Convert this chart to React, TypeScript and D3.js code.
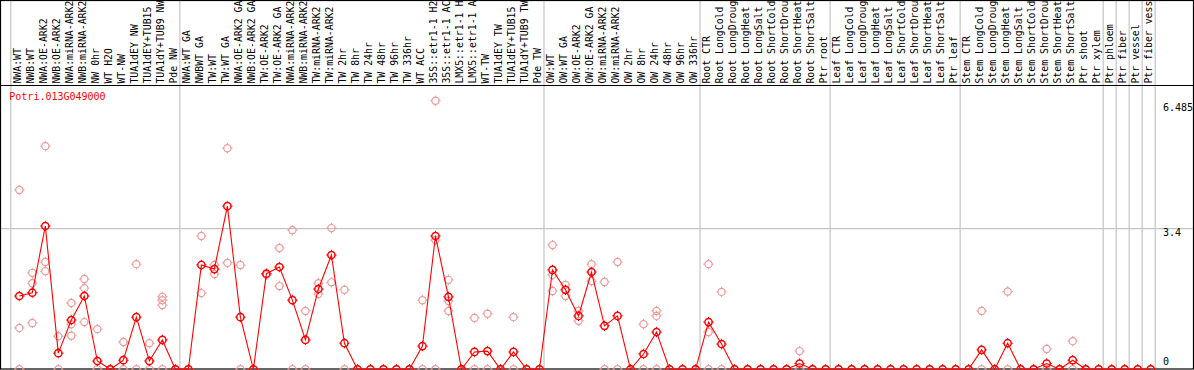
import React from 'react';
import * as d3 from 'd3';

const categories = [
  'NWA:WT', 'NWB:WT', 'NWA:OE-ARK2', 'NWB:OE-ARK2', 'NWA:miRNA-ARK2', 'NWB:miRNA-ARK2', 'NW 0hr', 'WT H2O', 'WT-NW',
  'TUA1dEY NW', 'TUA1dEY+TUB15', 'TUA1dY+TUB9 NW', 'Pde NW',
  'NWA:WT GA', 'NWBWT GA', 'TW:WT', 'TW:WT GA', 'NWA:OE-ARK2 GA', 'NWB:OE-ARK2 GA', 'TW:OE-ARK2', 'TW:OE-ARK2 GA',
  'NWA:miRNA-ARK2', 'NWB:miRNA-ARK2', 'TW:miRNA-ARK2', 'TW:miRNA-ARK2', 'TW 2hr', 'TW 8hr', 'TW 24hr', 'TW 48hr',
  'TW 96hr', 'TW 336hr', 'WT ACC', '35S::etr1-1 H2', '35S::etr1-1 AC', 'LMX5::etr1-1 H', 'LMX5::etr1-1 A',
  'WT-TW', 'TUA1dEY TW', 'TUA1dEY+TUB15', 'TUA1dY+TUB9 TW', 'Pde TW',
  'OW:WT', 'OW:WT GA', 'OW:OE-ARK2', 'OW:OE-ARK2 GA', 'OW:miRNA-ARK2', 'OW:miRNA-ARK2', 'OW 2hr', 'OW 8hr',
  'OW 24hr', 'OW 48hr', 'OW 96hr', 'OW 336hr',
  'Root CTR', 'Root LongCold', 'Root LongDroug', 'Root LongHeat', 'Root LongSalt', 'Root ShortCold',
  'Root ShortDrou', 'Root ShortHeat', 'Root ShortSalt', 'Ptr root',
  'Leaf CTR', 'Leaf LongCold', 'Leaf LongDroug', 'Leaf LongHeat', 'Leaf LongSalt', 'Leaf ShortCold',
  'Leaf ShortDrou', 'Leaf ShortHeat', 'Leaf ShortSalt', 'Ptr leaf',
  'Stem CTR', 'Stem LongCold', 'Stem LongDroug', 'Stem LongHeat', 'Stem LongSalt', 'Stem ShortCold',
  'Stem ShortDrou', 'Stem ShortHeat', 'Stem ShortSalt', 'Ptr shoot', 'Ptr xylem',
  'Ptr phloem', 'Ptr fiber', 'Ptr vessel', 'Ptr fiber vess',
];

const meanValues = [
  1.77, 1.85, 3.46, 0.39, 1.19, 1.77, 0.2, 0, 0.22, 1.26, 0.2, 0.71, 0,
  0, 2.52, 2.42, 3.94, 1.26, 0, 2.31, 2.47, 1.67, 0.71, 1.94, 2.76, 0.63, 0, 0, 0, 0, 0,
  0.56, 3.22, 1.75, 0, 0.42, 0.44, 0, 0.42, 0, 0,
  2.4, 1.92, 1.29, 2.35, 1.05, 1.29, 0, 0.37, 0.9, 0, 0, 0,
  1.14, 0.61, 0, 0, 0, 0, 0, 0.14, 0, 0,
  0, 0, 0, 0, 0, 0, 0, 0, 0, 0,
  0, 0.47, 0, 0.63, 0, 0, 0.14, 0, 0.22, 0, 0,
  0, 0, 0, 0,
];

const replicateValues = [
  [4.33, 1.0, 0], [2.33, 2.08, 1.12], [5.39, 2.59, 2.37], [0.8, 0], [1.6, 1.09, 0.81], [2.18, 1.96, 1.14],
  [0.97, 0], [0], [0.66, 0], [2.54, 0], [0.63, 0], [1.75, 1.67, 1.55, 0], [0],
  [0], [3.22, 1.84], [2.52, 2.3], [5.34, 2.57], [2.52, 0], [0], [2.28], [2.93, 2.01],
  [3.36, 0], [1.41, 0], [2.08, 1.82], [3.41, 2.1], [1.92, 0], [0], [0], [0], [0], [0],
  [1.67, 0], [6.485, 3.12, 0], [2.16, 1.65, 1.41], [0], [1.24, 0], [1.34, 0], [0], [1.26, 0], [0], [0],
  [3.0, 2.28, 1.89], [2.04, 1.77], [1.41, 1.17], [2.54, 2.13], [2.11, 0], [2.59, 0], [0], [1.09, 0],
  [1.41, 1.29, 0], [0], [0], [0],
  [2.54, 0.9, 0], [1.87, 0], [0], [0], [0], [0], [0], [0.44, 0], [0], [0],
  [0], [0], [0], [0], [0], [0], [0], [0], [0], [0],
  [0], [1.41, 0], [0], [1.88, 0], [0], [0], [0.49, 0], [0], [0.68, 0], [0], [0],
  [0], [0], [0], [0],
];

const groupStarts = [0, 13, 41, 53, 63, 73, 84, 85, 86, 87, 88];
const yTicks = [6.485, 3.4, 0];
const gridValues = [3.4];
const geneLabel = 'Potri.013G049000';

const W = 1194;
const H = 370;
const FONT = '"DejaVu Sans Mono", monospace';

function Marker({ cx, cy, color, sw }: { cx: number; cy: number; color: string; sw: number }) {
  const r = 3.6;
  const t = 1.6;
  const d = `M${cx},${cy - r - t}v${t}M${cx},${cy + r}v${t}M${cx - r - t},${cy}h${t}M${cx + r},${cy}h${t}`;
  return (
    <g>
      <circle cx={cx} cy={cy} r={r} fill="none" stroke={color} strokeWidth={sw} />
      <path d={d} stroke={color} strokeWidth={1} fill="none" />
    </g>
  );
}

export default function App() {
  const x = d3.scaleLinear().domain([0, categories.length - 1]).range([19.3, 1150.7]);
  const y = d3.scaleLinear().domain([0, 6.485]).range([369.3, 100.8]);
  const line = d3
    .line<number>()
    .x((_, i) => x(i))
    .y((d) => y(d));
  const tickDy = [10, 7.6, -4.3];

  return (
    <div style={{ position: 'fixed', left: 0, top: 0 }}>
      <svg width={W} height={H} style={{ display: 'block', background: '#fff' }}>
        {groupStarts.map((g) => (
          <line key={'v' + g} x1={x(g) - 8.5} x2={x(g) - 8.5} y1={0} y2={H} stroke="#c4c4c4" strokeWidth={1.2} />
        ))}
        {gridValues.map((v) => (
          <line key={'h' + v} x1={0} x2={W} y1={y(v)} y2={y(v)} stroke="#c4c4c4" strokeWidth={1.2} />
        ))}
        <line x1={0} x2={W} y1={85.5} y2={85.5} stroke="#000" strokeWidth={1} />
        <rect x={0.5} y={0.5} width={W - 1} height={368.5} fill="none" stroke="#000" strokeWidth={1.2} />
        {categories.map((c, i) => (
          <text
            key={'c' + i}
            transform={`translate(${x(i) + 1.4},83.6) rotate(-90)`}
            fontFamily={FONT}
            fontSize={9.85}
            fill="#000"
          >
            {c}
          </text>
        ))}
        {yTicks.map((v, i) => (
          <text key={'t' + v} x={1163} y={y(v) + tickDy[i]} fontFamily={FONT} fontSize={10} fill="#000">
            {String(v)}
          </text>
        ))}
        <text x={9.3} y={100} fontFamily={FONT} fontSize={10} fill="#ff0000">
          {geneLabel}
        </text>
        {replicateValues.map((reps, i) =>
          reps.map((v, j) => <Marker key={`r${i}-${j}`} cx={x(i)} cy={y(v)} color="#ee9a9a" sw={1.2} />)
        )}
        <path d={line(meanValues) || ''} fill="none" stroke="#ff0000" strokeWidth={1.1} />
        {meanValues.map((v, i) => (
          <Marker key={'m' + i} cx={x(i)} cy={y(v)} color="#ff0000" sw={1.5} />
        ))}
      </svg>
    </div>
  );
}
